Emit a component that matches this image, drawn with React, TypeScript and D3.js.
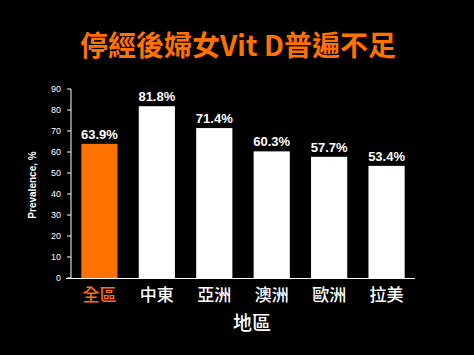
import React from "react";
import * as d3 from "d3";

const categories = ["全區", "中東", "亞洲", "澳洲", "歐洲", "拉美"];
const values = [63.9, 81.8, 71.4, 60.3, 57.7, 53.4];
const yTicks = [0, 10, 20, 30, 40, 50, 60, 70, 80, 90];
const title = "停經後婦女Vit D普遍不足";
const xTitle = "地區";
const yTitle = "Prevalence, %";

const W = 474, H = 355;
const ORANGE = "#FF7200";
const FONT = "'Liberation Sans', Arial, 'Noto Sans CJK TC', sans-serif";

export default function App() {
  const x = d3.scaleBand<string>().domain(categories).range([71, 415]).paddingInner(0.37).paddingOuter(0.18);
  const y = d3.scaleLinear().domain([0, 90]).range([278, 89]);
  return (
    <svg width={W} height={H} style={{ position: "absolute", left: 0, top: 0, background: "#000" }} fontFamily={FONT}>
      <rect x={0} y={0} width={W} height={H} fill="#000" />
      <text x={238} y={56} textAnchor="middle" fill={ORANGE} fontSize={28} fontWeight="bold"
        fontFamily="'Noto Sans CJK TC', 'Liberation Sans', sans-serif">{title}</text>
      {/* y axis */}
      <line x1={71} x2={71} y1={y(90)} y2={y(0)} stroke="#fff" strokeWidth={1} />
      {yTicks.map(t => (
        <g key={t}>
          <line x1={67} x2={71} y1={y(t)} y2={y(t)} stroke="#fff" />
          <text x={61} y={y(t)} dy="0.35em" textAnchor="end" fill="#fff" fontSize={9}>{t}</text>
        </g>
      ))}
      <line x1={66} x2={415} y1={y(0) + 0.5} y2={y(0) + 0.5} stroke="#fff" strokeWidth={1} />
      <text transform={`translate(36,185) rotate(-90)`} textAnchor="middle" fill="#fff" fontSize={10} fontWeight="bold">{yTitle}</text>
      {categories.map((c, i) => {
        const bx = x(c)!;
        const bw = x.bandwidth();
        const cx = bx + bw / 2;
        return (
          <g key={c}>
            <rect x={bx} y={y(values[i])} width={bw} height={y(0) - y(values[i])} fill={i === 0 ? ORANGE : "#fff"} />
            <text x={cx} y={y(values[i]) - 5} textAnchor="middle" fill="#fff" fontSize={13} fontWeight="bold">{values[i].toFixed(1)}%</text>
            <text x={cx} y={301} textAnchor="middle" fill={i === 0 ? ORANGE : "#fff"} fontSize={17} fontWeight={500}
              fontFamily="'Noto Sans CJK TC', sans-serif">{c}</text>
          </g>
        );
      })}
      <text x={252} y={330} textAnchor="middle" fill="#fff" fontSize={19} fontWeight={500}
        fontFamily="'Noto Sans CJK TC', sans-serif">{xTitle}</text>
    </svg>
  );
}
